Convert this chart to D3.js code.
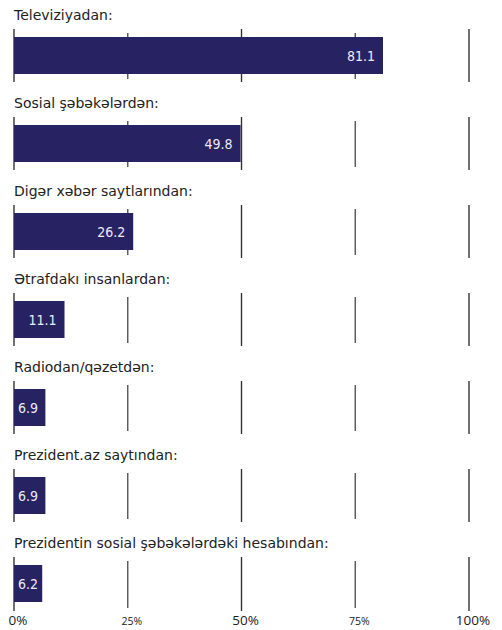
<!DOCTYPE html>
<html>
<head>
<meta charset="utf-8">
<script src="https://cdn.jsdelivr.net/npm/d3@7"></script>
<style>
  body { margin: 0; background: #fff; }
  text { font-family: "DejaVu Sans", Verdana, sans-serif; }
</style>
</head>
<body>
<script>
// categories and percentages
var categories = [
  "Televiziyadan:",
  "Sosial şəbəkələrdən:",
  "Digər xəbər saytlarından:",
  "Ətrafdakı insanlardan:",
  "Radiodan/qəzetdən:",
  "Prezident.az saytından:",
  "Prezidentin sosial şəbəkələrdəki hesabından:"
];
var values = [81.1, 49.8, 26.2, 11.1, 6.9, 6.9, 6.2];
var tickValues = [0, 25, 50, 75, 100];
var tickLabels = ["0%", "25%", "50%", "75%", "100%"];

var width = 502, height = 630;

var svg = d3.select("body").append("svg")
    .attr("width", width)
    .attr("height", height)

var x = d3.scaleLinear().domain([0, 100]).range([14, 469])
var y = d3.scaleBand().domain(categories).range([29, 29 + 88 * categories.length])

var barH = 37, barOff = 8

// grid lines for each row (drawn first, bars cover them)
categories.forEach(function (c, i) {
  svg.selectAll(null)
      .data(tickValues)
      .enter()
    .append("line")
      .attr("x1", function (d) { return x(d) })
      .attr("x2", function (d) { return x(d) })
      .attr("y1", function (d) { return y(c) + (d % 50 == 0 ? 0 : 4) })
      .attr("y2", function (d) {
        var extra = i == categories.length - 1 ? 1 : 0
        return y(c) + (d % 50 == 0 ? 53 : 50) + extra
      })
      .attr("stroke", function (d) { return d % 50 == 0 ? "#333" : "#555" })
      .attr("stroke-width", 1.4)
})

// category labels
svg.selectAll(".cat")
    .data(categories)
    .enter()
  .append("text")
    .attr("class", "cat")
    .attr("x", x(0))
    .attr("y", function (d) { return y(d) - 9 })
    .attr("font-size", 14)
    .attr("fill", "#222")
    .text(function (d) { return d })

// bars
svg.selectAll(".bar")
    .data(values)
    .enter()
  .append("rect")
    .attr("class", "bar")
    .attr("x", x(0))
    .attr("y", function (d, i) { return y(categories[i]) + barOff })
    .attr("width", function (d) { return x(d) - x(0) })
    .attr("height", barH)
    .attr("fill", "#272262")

// value labels inside bars
svg.selectAll(".val")
    .data(values)
    .enter()
  .append("text")
    .attr("class", "val")
    .attr("y", function (d, i) { return y(categories[i]) + barOff + barH / 2 + 5 })
    .attr("font-size", 14)
    .style("font-family", "'DejaVu Sans Condensed', 'DejaVu Sans', sans-serif")
    .attr("fill", "#eceaf4")
    .attr("text-anchor", "end")
    .text(function (d) { return d.toFixed(1) })
    .attr("x", function (d) {
      var w = this.getComputedTextLength()
      return Math.max(x(d) - 8, x(0) + 4 + w)
    })

// axis labels at the bottom
var axisY = y(categories[categories.length - 1]) + 68
svg.selectAll(".tick")
    .data(tickValues)
    .enter()
  .append("text")
    .attr("class", "tick")
    .attr("x", function (d) { return x(d) + 4 })
    .attr("y", axisY)
    .attr("text-anchor", "middle")
    .attr("font-size", function (d) { return d % 50 == 0 ? 13.5 : 10.5 })
    .style("font-family", "'Open Sans', sans-serif")
    .attr("fill", "#222")
    .text(function (d, i) { return tickLabels[i] })
</script>
</body>
</html>
